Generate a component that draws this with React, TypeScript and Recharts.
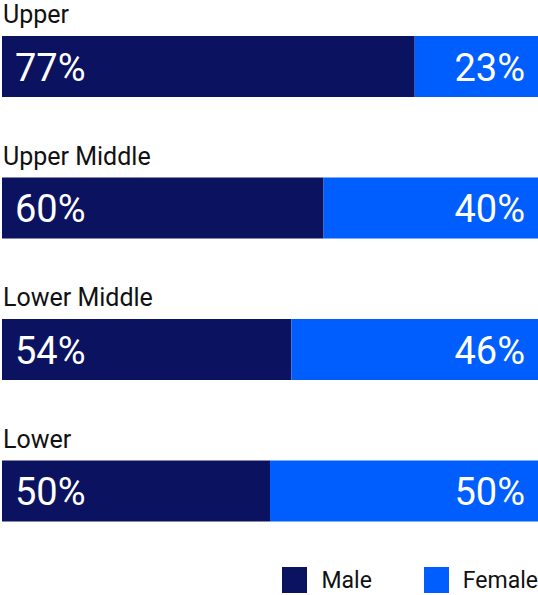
import { Bar, BarChart, LabelList, Legend, XAxis, YAxis } from "recharts";

const categories = ["Upper", "Upper Middle", "Lower Middle", "Lower"];
const male = [77, 60, 54, 50];
const female = [23, 40, 46, 50];

const MALE = "#0b1360";
const FEMALE = "#005eff";
const FONT = "Roboto, 'Noto Sans', sans-serif";

const rows = categories.map((name, i) => ({ name, male: male[i], female: female[i] }));

// category name sits above each bar
const nameLabel = (p: any) => {
  const { x, y, index } = p;
  return (
    <text x={x + 1} y={y - 13} fill="#111" fontSize={25} fontFamily={FONT}>
      {categories[index]}
    </text>
  );
};

const maleLabel = (p: any) => {
  const { x, y, height, value } = p;
  return (
    <text x={x + 13} y={y + height / 2 + 1} fill="#fff" fontSize={38} fontFamily={FONT} dominantBaseline="central">
      {value}%
    </text>
  );
};

const femaleLabel = (p: any) => {
  const { x, y, width, height, value } = p;
  return (
    <text
      x={x + width - 13}
      y={y + height / 2 + 1}
      fill="#fff"
      fontSize={38}
      fontFamily={FONT}
      textAnchor="end"
      dominantBaseline="central"
    >
      {value}%
    </text>
  );
};

const legend = () => (
  <div style={{ display: "flex", justifyContent: "flex-end", fontFamily: FONT, fontSize: 23, color: "#111", height: 26 }}>
    {[
      ["Male", MALE],
      ["Female", FEMALE],
    ].map(([n, c], i) => (
      <div key={n} style={{ display: "flex", alignItems: "center", marginRight: i ? 0 : 52 }}>
        <span style={{ width: 25, height: 26, background: c, marginRight: 14, display: "inline-block" }} />
        <span>{n}</span>
      </div>
    ))}
  </div>
);

export default function App() {
  return (
    <div style={{ position: "absolute", left: 0, top: -4, width: 538, height: 599, background: "#fff" }}>
      <BarChart
        width={538}
        height={599}
        data={rows}
        layout="vertical"
        margin={{ top: 0, right: 0, left: 2, bottom: 7 }}
        barSize={61}
      >
        <XAxis type="number" domain={[0, 100]} hide />
        <YAxis type="category" dataKey="name" hide />
        <Legend
          content={legend}
          verticalAlign="bottom"
          wrapperStyle={{ bottom: 2, right: 0, width: 538 }}
        />
        <Bar dataKey="male" stackId="a" fill={MALE} isAnimationActive={false}>
          <LabelList dataKey="male" content={nameLabel} />
          <LabelList dataKey="male" content={maleLabel} />
        </Bar>
        <Bar dataKey="female" stackId="a" fill={FEMALE} isAnimationActive={false}>
          <LabelList dataKey="female" content={femaleLabel} />
        </Bar>
      </BarChart>
    </div>
  );
}
